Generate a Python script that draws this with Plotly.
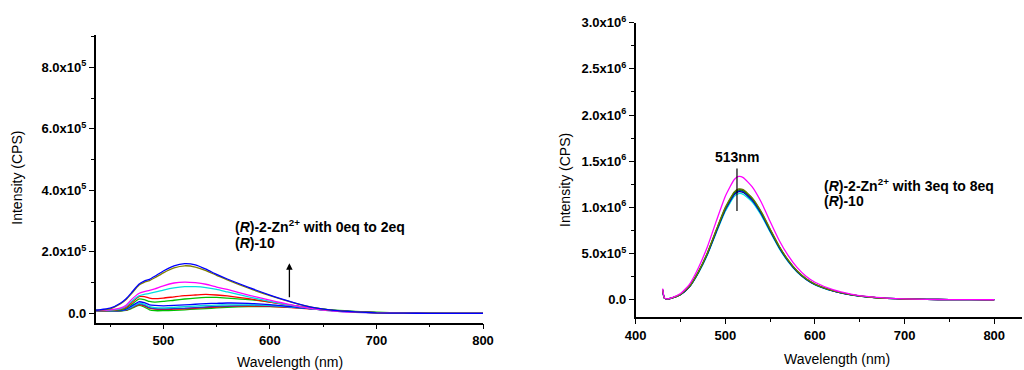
import plotly.graph_objects as go

# ---------------- data ----------------
# Panel A: (R)-2-Zn2+ titrated with 0 to 2 eq (R)-10, intensity in CPS
wl_a = [430, 440, 450, 460, 465, 470, 477, 482, 487, 492, 500, 510, 520, 530, 540, 550,
        560, 580, 600, 620, 640, 660, 680, 700, 725, 750, 775, 800]

a_green_lo = [0.09e5, 0.09e5, 0.08e5, 0.08e5, 0.10e5, 0.16e5, 0.26e5, 0.21e5, 0.12e5, 0.09e5, 0.09e5, 0.10e5, 0.12e5, 0.14e5, 0.16e5, 0.18e5,
              0.20e5, 0.22e5, 0.22e5, 0.20e5, 0.16e5, 0.11e5, 0.07e5, 0.04e5, 0.02e5, 0.010e5, 0.005e5, 0.003e5]
a_red_lo = [0.09e5, 0.09e5, 0.09e5, 0.09e5, 0.11e5, 0.18e5, 0.29e5, 0.25e5, 0.17e5, 0.14e5, 0.13e5, 0.14e5, 0.15e5, 0.17e5, 0.19e5, 0.21e5,
            0.23e5, 0.24e5, 0.23e5, 0.19e5, 0.14e5, 0.09e5, 0.05e5, 0.03e5, 0.015e5, 0.008e5, 0.004e5, 0.002e5]
a_navy = [0.09e5, 0.09e5, 0.09e5, 0.09e5, 0.12e5, 0.19e5, 0.31e5, 0.27e5, 0.19e5, 0.16e5, 0.15e5, 0.16e5, 0.17e5, 0.19e5, 0.21e5, 0.23e5,
          0.24e5, 0.26e5, 0.25e5, 0.21e5, 0.15e5, 0.10e5, 0.06e5, 0.03e5, 0.015e5, 0.008e5, 0.004e5, 0.002e5]
a_cyan_lo = [0.09e5, 0.09e5, 0.09e5, 0.10e5, 0.13e5, 0.21e5, 0.33e5, 0.30e5, 0.22e5, 0.19e5, 0.18e5, 0.20e5, 0.22e5, 0.24e5, 0.26e5, 0.27e5,
             0.28e5, 0.28e5, 0.26e5, 0.21e5, 0.15e5, 0.09e5, 0.05e5, 0.025e5, 0.012e5, 0.006e5, 0.003e5, 0.002e5]
a_blue_lo = [0.09e5, 0.09e5, 0.09e5, 0.10e5, 0.14e5, 0.24e5, 0.38e5, 0.35e5, 0.28e5, 0.26e5, 0.25e5, 0.26e5, 0.28e5, 0.30e5, 0.32e5, 0.33e5,
             0.34e5, 0.33e5, 0.29e5, 0.22e5, 0.15e5, 0.09e5, 0.05e5, 0.025e5, 0.012e5, 0.006e5, 0.003e5, 0.002e5]
a_green = [0.09e5, 0.09e5, 0.10e5, 0.12e5, 0.17e5, 0.29e5, 0.47e5, 0.45e5, 0.39e5, 0.37e5, 0.39e5, 0.43e5, 0.47e5, 0.50e5, 0.52e5, 0.52e5,
           0.50e5, 0.45e5, 0.37e5, 0.27e5, 0.18e5, 0.10e5, 0.05e5, 0.03e5, 0.015e5, 0.008e5, 0.004e5, 0.002e5]
a_red = [0.09e5, 0.09e5, 0.10e5, 0.14e5, 0.20e5, 0.34e5, 0.55e5, 0.55e5, 0.50e5, 0.48e5, 0.50e5, 0.54e5, 0.58e5, 0.60e5, 0.62e5, 0.60e5,
         0.57e5, 0.48e5, 0.37e5, 0.26e5, 0.16e5, 0.09e5, 0.05e5, 0.025e5, 0.012e5, 0.006e5, 0.003e5, 0.002e5]
a_cyan = [0.09e5, 0.10e5, 0.11e5, 0.16e5, 0.24e5, 0.39e5, 0.57e5, 0.62e5, 0.65e5, 0.69e5, 0.76e5, 0.83e5, 0.87e5, 0.87e5, 0.84e5, 0.78e5,
          0.70e5, 0.54e5, 0.39e5, 0.26e5, 0.15e5, 0.08e5, 0.04e5, 0.02e5, 0.01e5, 0.005e5, 0.003e5, 0.002e5]
a_magenta = [0.09e5, 0.10e5, 0.12e5, 0.18e5, 0.27e5, 0.45e5, 0.65e5, 0.71e5, 0.75e5, 0.80e5, 0.90e5, 0.99e5, 1.02e5, 1.00e5, 0.95e5, 0.86e5,
             0.78e5, 0.60e5, 0.43e5, 0.28e5, 0.16e5, 0.08e5, 0.04e5, 0.02e5, 0.01e5, 0.005e5, 0.003e5, 0.002e5]
a_olive = [0.10e5, 0.11e5, 0.15e5, 0.32e5, 0.45e5, 0.64e5, 0.92e5, 1.01e5, 1.07e5, 1.16e5, 1.32e5, 1.48e5, 1.55e5, 1.51e5, 1.39e5, 1.24e5,
           1.09e5, 0.82e5, 0.58e5, 0.37e5, 0.20e5, 0.10e5, 0.05e5, 0.02e5, 0.01e5, 0.005e5, 0.003e5, 0.002e5]
a_blue = [0.10e5, 0.12e5, 0.17e5, 0.34e5, 0.48e5, 0.67e5, 0.95e5, 1.05e5, 1.11e5, 1.21e5, 1.38e5, 1.55e5, 1.62e5, 1.58e5, 1.44e5, 1.27e5,
          1.12e5, 0.85e5, 0.60e5, 0.38e5, 0.20e5, 0.10e5, 0.05e5, 0.02e5, 0.01e5, 0.005e5, 0.003e5, 0.002e5]

series_a = [
    (a_green_lo, "#00C000"), (a_red_lo, "#FF0000"), (a_navy, "#3030C0"),
    (a_cyan_lo, "#00D8D8"), (a_blue_lo, "#0000FF"), (a_green, "#00C000"),
    (a_red, "#FF0000"), (a_cyan, "#00E0E0"), (a_magenta, "#FF00FF"),
    (a_olive, "#808000"), (a_blue, "#0000FF"),
]

# Panel B: (R)-2-Zn2+ with 3 to 8 eq (R)-10
wl_b = [430, 432, 435, 440, 450, 460, 470, 480, 490, 500, 510, 515, 520, 530, 540,
        550, 560, 570, 580, 590, 600, 620, 640, 660, 680, 700, 725, 750, 775, 800]

b_magenta = [0.120e6, 0.020e6, 0.010e6, 0.020e6, 0.067e6, 0.167e6, 0.347e6, 0.574e6, 0.854e6, 1.121e6, 1.302e6, 1.335e6, 1.322e6, 1.222e6, 1.058e6,
             0.848e6, 0.645e6, 0.480e6, 0.350e6, 0.255e6, 0.190e6, 0.110e6, 0.062e6, 0.033e6, 0.018e6, 0.009e6, 0.004e6, 0.002e6, 0.001e6, 0.0]
b_olive = [0.110e6, 0.018e6, 0.009e6, 0.018e6, 0.058e6, 0.146e6, 0.305e6, 0.508e6, 0.760e6, 1.000e6, 1.168e6, 1.200e6, 1.192e6, 1.104e6, 0.956e6,
           0.766e6, 0.582e6, 0.432e6, 0.314e6, 0.229e6, 0.170e6, 0.099e6, 0.056e6, 0.030e6, 0.016e6, 0.008e6, 0.004e6, 0.002e6, 0.001e6, 0.0]
b_green = [0.110e6, 0.018e6, 0.009e6, 0.018e6, 0.058e6, 0.145e6, 0.302e6, 0.504e6, 0.754e6, 0.992e6, 1.158e6, 1.190e6, 1.182e6, 1.095e6, 0.948e6,
           0.759e6, 0.577e6, 0.428e6, 0.311e6, 0.227e6, 0.168e6, 0.098e6, 0.055e6, 0.030e6, 0.016e6, 0.008e6, 0.004e6, 0.002e6, 0.001e6, 0.0]
b_blue = [0.108e6, 0.018e6, 0.009e6, 0.018e6, 0.057e6, 0.143e6, 0.299e6, 0.499e6, 0.747e6, 0.983e6, 1.148e6, 1.180e6, 1.172e6, 1.085e6, 0.939e6,
          0.752e6, 0.572e6, 0.424e6, 0.308e6, 0.225e6, 0.167e6, 0.097e6, 0.055e6, 0.029e6, 0.016e6, 0.008e6, 0.004e6, 0.002e6, 0.001e6, 0.0]
b_navy = [0.107e6, 0.018e6, 0.008e6, 0.018e6, 0.056e6, 0.141e6, 0.296e6, 0.495e6, 0.740e6, 0.975e6, 1.138e6, 1.170e6, 1.162e6, 1.076e6, 0.931e6,
          0.746e6, 0.567e6, 0.420e6, 0.305e6, 0.223e6, 0.165e6, 0.096e6, 0.054e6, 0.029e6, 0.016e6, 0.008e6, 0.004e6, 0.002e6, 0.001e6, 0.0]
b_cyan = [0.105e6, 0.017e6, 0.008e6, 0.017e6, 0.055e6, 0.139e6, 0.291e6, 0.486e6, 0.728e6, 0.958e6, 1.119e6, 1.150e6, 1.142e6, 1.058e6, 0.915e6,
          0.733e6, 0.557e6, 0.413e6, 0.300e6, 0.219e6, 0.162e6, 0.095e6, 0.053e6, 0.028e6, 0.015e6, 0.008e6, 0.004e6, 0.002e6, 0.001e6, 0.0]

series_b = [
    (b_cyan, "#00E0E0"), (b_navy, "#000080"), (b_blue, "#0000FF"),
    (b_green, "#008000"), (b_olive, "#667700"), (b_magenta, "#FF00FF"),
]

# axis ticks
xa_ticks = [500, 600, 700, 800]
ya_ticks = [0, 2e5, 4e5, 6e5, 8e5]
ya_labels = ["0.0", "2.0x10<sup>5</sup>", "4.0x10<sup>5</sup>", "6.0x10<sup>5</sup>", "8.0x10<sup>5</sup>"]
xb_ticks = [400, 500, 600, 700, 800]
yb_ticks = [0, 0.5e6, 1.0e6, 1.5e6, 2.0e6, 2.5e6, 3.0e6]
yb_labels = ["0.0", "5.0x10<sup>5</sup>", "1.0x10<sup>6</sup>", "1.5x10<sup>6</sup>",
             "2.0x10<sup>6</sup>", "2.5x10<sup>6</sup>", "3.0x10<sup>6</sup>"]

peak_nm = 513

# ---------------- figure ----------------
FONT = "Liberation Sans, Arial, sans-serif"
W, H = 1024, 370

fig = go.Figure()
for ys, col in series_a:
    fig.add_trace(go.Scatter(x=wl_a, y=ys, mode="lines", xaxis="x", yaxis="y",
                             line=dict(color=col, width=1.3, shape="spline", smoothing=0.5),
                             showlegend=False, hoverinfo="skip"))
for ys, col in series_b:
    fig.add_trace(go.Scatter(x=wl_b, y=ys, mode="lines", xaxis="x2", yaxis="y2",
                             line=dict(color=col, width=1.3, shape="spline", smoothing=0.5),
                             showlegend=False, hoverinfo="skip"))


def px(xp, yp):
    return xp / W, 1 - yp / H


axis_common = dict(showline=True, linecolor="black", linewidth=1.5, ticks="outside",
                   ticklen=5, tickwidth=1.2, tickcolor="black", showgrid=False, zeroline=False,
                   automargin=False,
                   tickfont=dict(family=FONT, size=13, color="black", weight="bold"))

fig.update_layout(
    width=W, height=H, margin=dict(l=0, r=0, t=0, b=0, pad=0),
    paper_bgcolor="white", plot_bgcolor="white",
    xaxis=dict(domain=[95.7 / W, 483 / W], range=[436.5, 800], anchor="y",
               tickmode="array", tickvals=xa_ticks, ticktext=[str(v) for v in xa_ticks],
               minor=dict(dtick=50, tick0=0, ticklen=3, tickcolor="black", ticks="outside"),
               **axis_common),
    yaxis=dict(domain=[1 - 322.7 / H, 1 - 35 / H], range=[-0.3e5, 9.05e5], anchor="x",
               tickmode="array", tickvals=ya_ticks, ticktext=ya_labels,
               minor=dict(dtick=1e5, tick0=0, ticklen=3, tickcolor="black", ticks="outside"),
               **axis_common),
    xaxis2=dict(domain=[635.7 / W, 1022 / W], range=[400, 831], anchor="y2",
                tickmode="array", tickvals=xb_ticks, ticktext=[str(v) for v in xb_ticks],
                minor=dict(dtick=50, tick0=0, ticklen=3, tickcolor="black", ticks="outside"),
                **axis_common),
    yaxis2=dict(domain=[1 - 317.3 / H, 1 - 22.7 / H], range=[-0.19e6, 3.0e6], anchor="x2",
                tickmode="array", tickvals=yb_ticks, ticktext=yb_labels,
                minor=dict(dtick=0.25e6, tick0=0, ticklen=3, tickcolor="black", ticks="outside"),
                **axis_common),
)

title_font = dict(family=FONT, size=14, color="black")
ann_font = dict(family=FONT, size=14, color="black", weight="bold")

for (xp, yp, txt, ang) in [(16.7, 178, "Intensity (CPS)", -90),
                           (565, 180, "Intensity (CPS)", -90),
                           (290, 361.7, "Wavelength (nm)", 0),
                           (836.7, 359.3, "Wavelength (nm)", 0)]:
    xx, yy = px(xp, yp)
    fig.add_annotation(x=xx, y=yy, xref="paper", yref="paper", text=txt, textangle=ang,
                       showarrow=False, xanchor="center", yanchor="middle", font=title_font)

# panel A labels and arrow
fig.add_annotation(x=565.2, y=2.84e5, xref="x", yref="y", xanchor="left", yanchor="middle",
                   text="(<i>R</i>)-2-Zn<sup>2+</sup> with 0eq to 2eq", showarrow=False, font=ann_font)
fig.add_annotation(x=565.2, y=2.28e5, xref="x", yref="y", xanchor="left", yanchor="middle",
                   text="(<i>R</i>)-10", showarrow=False, font=ann_font)
fig.add_annotation(x=618.3, y=1.63e5, ax=618.3, ay=0.475e5, xref="x", yref="y",
                   axref="x", ayref="y", showarrow=True, arrowhead=2, arrowsize=1,
                   arrowwidth=1.3, arrowcolor="black", text="")

# panel B labels and peak marker
fig.add_shape(type="line", xref="x2", yref="y2", x0=peak_nm, x1=peak_nm, y0=0.96e6, y1=1.42e6,
              line=dict(color="black", width=1.2))
fig.add_annotation(x=peak_nm, y=1.543e6, xref="x2", yref="y2", text=f"{peak_nm}nm",
                   showarrow=False, xanchor="center", yanchor="middle", font=ann_font)
fig.add_annotation(x=607.6, y=1.243e6, xref="x2", yref="y2", xanchor="left", yanchor="middle",
                   text="(<i>R</i>)-2-Zn<sup>2+</sup> with 3eq to 8eq", showarrow=False, font=ann_font)
fig.add_annotation(x=607.6, y=1.073e6, xref="x2", yref="y2", xanchor="left", yanchor="middle",
                   text="(<i>R</i>)-10", showarrow=False, font=ann_font)

fig.write_html("out.html")
